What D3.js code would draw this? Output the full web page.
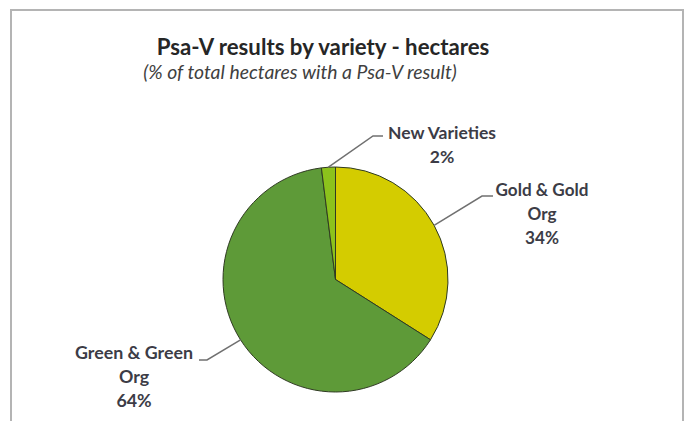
<!DOCTYPE html>
<html><head><meta charset="utf-8">
<script src="https://cdn.jsdelivr.net/npm/d3@7"></script>
<style>html,body{margin:0;padding:0;background:#fff;}svg{display:block;}</style>
</head><body>
<svg id="chart" width="688" height="421"></svg>
<script>
const categories = ["Gold & Gold Org", "Green & Green Org", "New Varieties"];
const values = [34, 64, 2];
const labelLines = [["Gold & Gold", "Org", "34%"], ["Green & Green", "Org", "64%"], ["New Varieties", "2%"]];
const colors = ["#d4cc00", "#5e9a38", "#8cc21c"];
const titleText = "Psa-V results by variety - hectares";
const subtitleText = "(% of total hectares with a Psa-V result)";

// layout
const W = 688, H = 421;
const cx = 335.5, cy = 279.5, R = 112.5;
const labelPos = [
  {x: 542, y: 196, w: 93, ex: 482, ey: 196, hx: 493},
  {x: 134, y: 359, w: 118, ex: 207, ey: 360, hx: 199},
  {x: 442, y: 139, w: 108, ex: 373, ey: 136, hx: 383}
];
const lineH = 24.2;

const svg = d3.select("#chart");
svg.append("rect").attr("width", W).attr("height", H).attr("fill", "#fff");
svg.append("path").attr("d", `M11,${H} V10 H683 V${H}`)
  .attr("fill", "none").attr("stroke", "#b4b4b4").attr("stroke-width", 2);

function fitText(sel, target, node) {
  const n = (node || sel).node();
  const w = n.getComputedTextLength();
  const fs = parseFloat(sel.attr("font-size"));
  sel.attr("font-size", fs * target / w);
}

const title = svg.append("text").attr("x", 323).attr("y", 55)
  .attr("text-anchor", "middle").attr("font-family", "Lato, 'Open Sans', sans-serif")
  .attr("font-weight", "bold").attr("font-size", 20).attr("fill", "#262626").text(titleText);
fitText(title, 333);
const sub = svg.append("text").attr("x", 300).attr("y", 79)
  .attr("text-anchor", "middle").attr("font-family", "Lato, 'Open Sans', sans-serif")
  .attr("font-style", "italic").attr("font-size", 14).attr("fill", "#404040").text(subtitleText);
fitText(sub, 314);

const pie = d3.pie().value(d => d).sort(null);
const arcs = pie(values);
const arc = d3.arc().innerRadius(0).outerRadius(R);
const g = svg.append("g").attr("transform", `translate(${cx},${cy})`);
g.selectAll("path.slice").data(arcs).join("path").attr("class", "slice")
  .attr("d", arc).attr("fill", (d, i) => colors[i])
  .attr("stroke", "#2f3a22").attr("stroke-width", 1);

// leader lines + labels
arcs.forEach((a, i) => {
  const m = (a.startAngle + a.endAngle) / 2;
  const px = cx + Math.sin(m) * R, py = cy - Math.cos(m) * R;
  const lp = labelPos[i];
  svg.append("polyline")
    .attr("points", `${px},${py} ${lp.ex},${lp.ey} ${lp.hx},${lp.ey}`)
    .attr("fill", "none").attr("stroke", "#707070").attr("stroke-width", 1.5);
  const t = svg.append("text").attr("text-anchor", "middle")
    .attr("font-family", "Lato, 'Open Sans', sans-serif").attr("font-weight", "bold")
    .attr("font-size", 15).attr("fill", "#3c3c46");
  const spans = labelLines[i].map((s, j) =>
    t.append("tspan").attr("x", lp.x).attr("y", lp.y + j * lineH).text(s));
  fitText(t, lp.w, spans[0]);
});
</script>
</body></html>
